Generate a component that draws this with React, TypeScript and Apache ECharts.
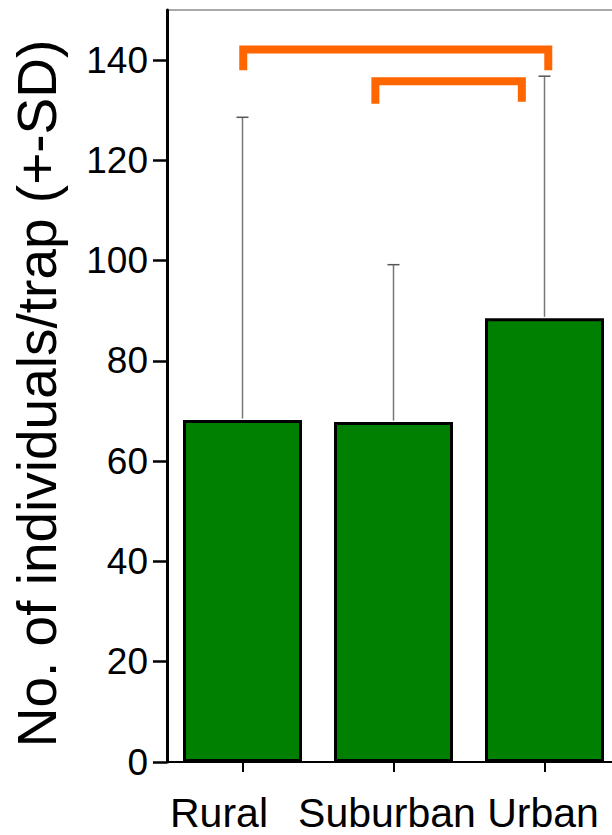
import React, { useEffect, useRef } from 'react';
import * as echarts from 'echarts';

const categories = ['Rural', 'Suburban', 'Urban'];
const means = [68.2, 67.8, 88.5];
const sds = [60.4, 31.4, 48.3];
const yTicks = [0, 20, 40, 60, 80, 100, 120, 140];
const yMax = 150;
const yTitle = 'No. of individuals/trap (+-SD)';

// significance brackets: from category, to category, top value, leg end values
const bracketFrom = [0, 1];
const bracketTo = [2, 2];
const bracketTop = [142.1, 135.8];
const bracketLegFrom = [138.0, 131.3];
const bracketLegTo = [138.0, 131.7];

// visual nudges (fractions of a category band / pixel padding)
const bracketNudge = [
  [0.005, 0.025],
  [-0.12, -0.15],
];
const labelShift = [47, 13, 3];

export default function App() {
  const ref = useRef<HTMLDivElement>(null);

  useEffect(() => {
    if (!ref.current) return;
    const chart = echarts.init(ref.current, undefined, { renderer: 'svg' });

    const errorData = means.map((m, i) => [i, m, m + sds[i]]);
    const bracketData = bracketFrom.map((f, i) => [
      f,
      bracketTo[i],
      bracketTop[i],
      bracketLegFrom[i],
      bracketLegTo[i],
    ]);

    const rich: Record<string, any> = {};
    categories.forEach((_, i) => {
      rich['c' + i] = {
        fontSize: 41,
        lineHeight: 36,
        fontFamily: 'Liberation Sans',
        color: '#000',
        padding: [0, labelShift[i], 0, 0],
      };
    });

    chart.setOption({
      animation: false,
      backgroundColor: '#fff',
      grid: {
        left: 167,
        top: 10,
        width: 453,
        height: 752,
        show: true,
        borderColor: '#555',
        borderWidth: 1.2,
        backgroundColor: 'transparent',
        containLabel: false,
        outerBoundsMode: 'none',
      },
      xAxis: {
        type: 'category',
        data: categories,
        axisLine: { show: true, lineStyle: { color: '#000', width: 2 } },
        axisTick: {
          show: true,
          alignWithLabel: true,
          length: 10,
          lineStyle: { color: '#000', width: 2 },
        },
        axisLabel: {
          interval: 0,
          hideOverlap: false,
          margin: 33,
          fontSize: 41,
          lineHeight: 36,
          fontFamily: 'Liberation Sans',
          color: '#000',
          formatter: (v: string) => {
            const i = categories.indexOf(v);
            return '{c' + i + '|' + v + '}';
          },
          rich,
        },
        splitLine: { show: false },
      },
      yAxis: {
        type: 'value',
        min: 0,
        max: yMax,
        interval: 20,
        name: yTitle,
        nameLocation: 'middle',
        nameGap: 103,
        nameTextStyle: {
          fontSize: 55,
          fontFamily: 'Liberation Sans',
          color: '#000',
          padding: [0, 15, 0, 0],
        },
        axisLine: { show: true, lineStyle: { color: '#000', width: 3 } },
        axisTick: {
          show: true,
          length: 14,
          customValues: yTicks,
          lineStyle: { color: '#000', width: 2.5 },
        },
        axisLabel: {
          customValues: yTicks,
          margin: 19,
          fontSize: 37,
          fontFamily: 'Liberation Sans',
          color: '#000',
        },
        splitLine: { show: false },
      },
      series: [
        {
          type: 'bar',
          data: means,
          barWidth: 119,
          itemStyle: { color: '#008000', borderColor: '#000', borderWidth: 3 },
          z: 2,
        },
        {
          type: 'custom',
          data: errorData,
          encode: { x: 0, y: [1, 2] },
          z: 3,
          renderItem: (params: any, api: any) => {
            const i = api.value(0);
            const lo = api.coord([i, api.value(1)]);
            const hi = api.coord([i, api.value(2)]);
            const cap = 6;
            return {
              type: 'group',
              children: [
                {
                  type: 'line',
                  shape: { x1: lo[0], y1: lo[1] - 1.5, x2: hi[0], y2: hi[1] },
                  style: { stroke: '#777', lineWidth: 1.5 },
                },
                {
                  type: 'line',
                  shape: { x1: hi[0] - cap, y1: hi[1], x2: hi[0] + cap, y2: hi[1] },
                  style: { stroke: '#555', lineWidth: 1.5 },
                },
              ],
            };
          },
        },
        {
          type: 'custom',
          data: bracketData,
          encode: { x: [0, 1], y: [2, 3, 4] },
          z: 4,
          clip: false,
          renderItem: (params: any, api: any) => {
            const k = params.dataIndex;
            const band = api.size([1, 0])[0];
            const a = api.coord([api.value(0), api.value(2)]);
            const b = api.coord([api.value(1), api.value(2)]);
            const la = api.coord([api.value(0), api.value(3)]);
            const lb = api.coord([api.value(1), api.value(4)]);
            const xa = a[0] + bracketNudge[k][0] * band;
            const xb = b[0] + bracketNudge[k][1] * band;
            return {
              type: 'polyline',
              shape: {
                points: [
                  [xa, la[1]],
                  [xa, a[1]],
                  [xb, a[1]],
                  [xb, lb[1]],
                ],
              },
              style: {
                stroke: '#FF6600',
                lineWidth: 8,
                fill: null,
                lineJoin: 'miter',
                lineCap: 'butt',
              },
            };
          },
        },
      ],
    });

    return () => {
      chart.dispose();
    };
  }, []);

  return (
    <div
      ref={ref}
      style={{ position: 'fixed', left: 0, top: 0, width: 612, height: 835, background: '#fff' }}
    />
  );
}
